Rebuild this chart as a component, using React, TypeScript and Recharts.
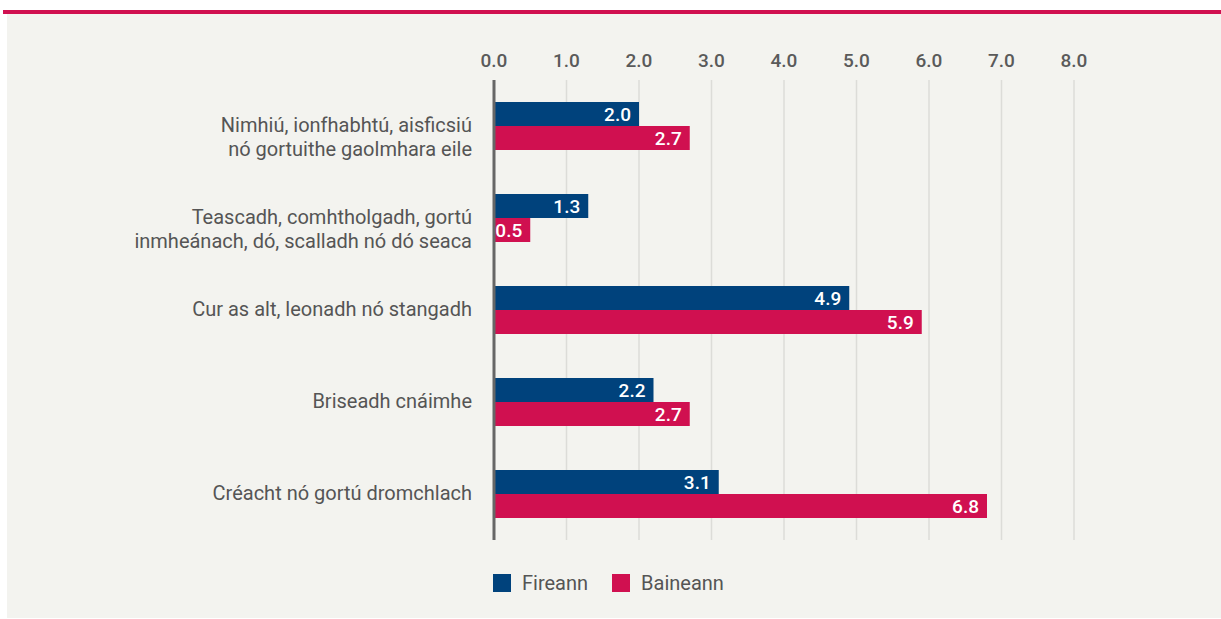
import React from "react";
import { BarChart, Bar, XAxis, YAxis, CartesianGrid, LabelList } from "recharts";

// categories, top to bottom ("\n" marks the line break in the label)
const categories = [
    "Nimhiú, ionfhabhtú, aisficsiú\nnó gortuithe gaolmhara eile",
    "Teascadh, comhtholgadh, gortú\ninmheánach, dó, scalladh nó dó seaca",
    "Cur as alt, leonadh nó stangadh",
    "Briseadh cnáimhe",
    "Créacht nó gortú dromchlach",
];
const fireann = [2.0, 1.3, 4.9, 2.2, 3.1];
const baineann = [2.7, 0.5, 5.9, 2.7, 6.8];
const xTicks = [0, 1, 2, 3, 4, 5, 6, 7, 8];

const BLUE = "#00427c";
const PINK = "#d01050";
const TEXT = "#555555";
const FONT = "Roboto, 'Noto Sans', sans-serif";

const data = categories.map((name, i) => ({
    name,
    fireann: fireann[i],
    baineann: baineann[i],
}));

// first line sits on the band centre, further lines hang below it
const CategoryTick = (props: any) => {
    const { x, y, payload } = props;
    const lines = String(payload.value).split("\n");
    const lh = 24;
    return (
        <text x={x} y={y} textAnchor="end" fill={TEXT} fontSize={20} fontFamily={FONT}>
            {lines.map((l, i) => (
                <tspan key={i} x={x} y={y - 1 + i * lh} dy="0.35em">
                    {l}
                </tspan>
            ))}
        </text>
    );
};

const legendItems = [
    { label: "Fireann", color: BLUE },
    { label: "Baineann", color: PINK },
];

const App = () => {
    return (
        <div style={{ position: "absolute", left: 0, top: 0, width: 1221, height: 619, background: "#fff" }}>
            <div style={{ position: "absolute", left: 3, top: 10, width: 1218, height: 4, background: PINK }} />
            <div style={{ position: "absolute", left: 7, top: 14, width: 1214, height: 604, background: "#f3f3ef" }} />
            <div style={{ position: "absolute", left: 0, top: 0 }}>
                <BarChart
                    width={1221}
                    height={619}
                    data={data}
                    layout="vertical"
                    margin={{ top: 40, right: 147, bottom: 79, left: 0 }}
                    barSize={24}
                    barGap={0}
                >
                    <CartesianGrid horizontal={false} stroke="#dcdcd8" strokeWidth={1.5} />
                    <XAxis
                        type="number"
                        orientation="top"
                        domain={[0, 8]}
                        ticks={xTicks}
                        height={40}
                        axisLine={false}
                        tickLine={false}
                        tickSize={0}
                        tickMargin={13}
                        tickFormatter={(v: number) => v.toFixed(1)}
                        tick={{ fill: "#5a5a5a", fontSize: 19, fontWeight: 500, fontFamily: FONT }}
                    />
                    <YAxis
                        type="category"
                        dataKey="name"
                        width={494}
                        axisLine={{ stroke: "#666", strokeWidth: 3 }}
                        tickLine={false}
                        tickSize={0}
                        tickMargin={22}
                        tick={<CategoryTick />}
                        interval={0}
                    />
                    <Bar dataKey="fireann" fill={BLUE} isAnimationActive={false}>
                        <LabelList
                            dataKey="fireann"
                            position="insideRight"
                            offset={8}
                            fill="#fff"
                            fontSize={19}
                            fontWeight={500}
                            fontFamily={FONT}
                            formatter={(v: any) => Number(v).toFixed(1)}
                        />
                    </Bar>
                    <Bar dataKey="baineann" fill={PINK} isAnimationActive={false}>
                        <LabelList
                            dataKey="baineann"
                            position="insideRight"
                            offset={8}
                            fill="#fff"
                            fontSize={19}
                            fontWeight={500}
                            fontFamily={FONT}
                            formatter={(v: any) => Number(v).toFixed(1)}
                        />
                    </Bar>
                </BarChart>
            </div>
            <div
                style={{
                    position: "absolute",
                    left: 493,
                    top: 571,
                    display: "flex",
                    alignItems: "center",
                    fontFamily: FONT,
                    fontSize: 20,
                    color: TEXT,
                }}
            >
                {legendItems.map((it) => (
                    <div key={it.label} style={{ display: "flex", alignItems: "center", marginRight: 24 }}>
                        <span style={{ width: 18, height: 18, background: it.color, display: "inline-block", marginRight: 11 }} />
                        <span>{it.label}</span>
                    </div>
                ))}
            </div>
        </div>
    );
};

export default App;
